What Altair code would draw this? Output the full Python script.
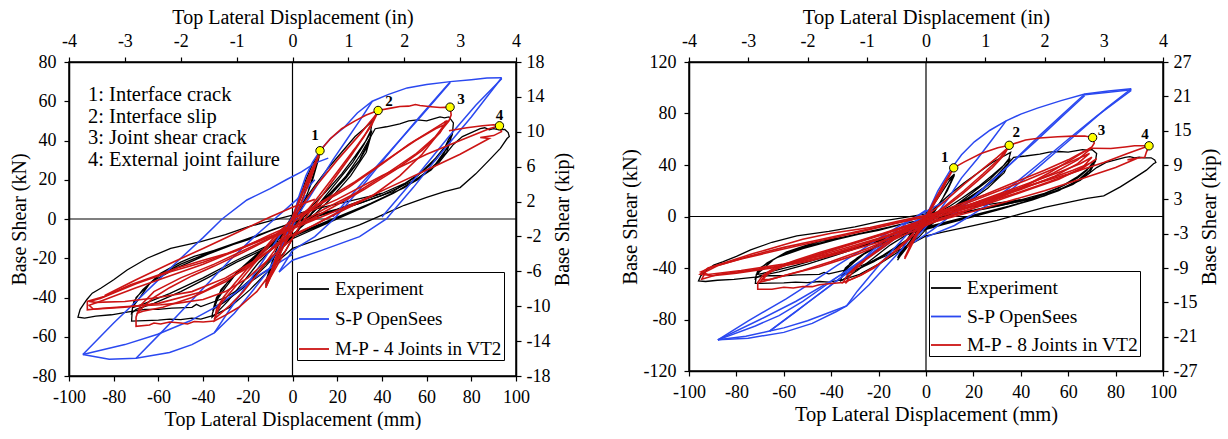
import altair as alt
import pandas as pd

FONT = "Liberation Serif, Times New Roman, DejaVu Serif, serif"
BLACK = "#000000"
BLUE = "#2a48f0"
RED = "#cc1414"

# ---------------- axis tick values ----------------
mm_ticks = [-100, -80, -60, -40, -20, 0, 20, 40, 60, 80, 100]
in_ticks = [-4, -3, -2, -1, 0, 1, 2, 3, 4]
kn_ticks_left = [-80, -60, -40, -20, 0, 20, 40, 60, 80]
kip_ticks_left = [-18, -14, -10, -6, -2, 2, 6, 10, 14, 18]
kn_ticks_right = [-120, -80, -40, 0, 40, 80, 120]
kip_ticks_right = [-27, -21, -15, -9, -3, 3, 9, 15, 21, 27]

series_names_left = ["Experiment", "S-P OpenSees", "M-P - 4 Joints in VT2"]
series_names_right = ["Experiment", "S-P OpenSees", "M-P - 8 Joints in VT2"]

event_labels = ["1", "2", "3", "4"]
events_left_x = [12.3, 38.3, 70.5, 92.6]
events_left_y = [34.8, 55.3, 57.0, 47.5]
events_right_x = [11.7, 35.1, 70.3, 94.1]
events_right_y = [37.8, 55.3, 61.3, 54.9]

annotation_lines = ["1: Interface crack", "2: Interface slip",
                    "3: Joint shear crack", "4: External joint failure"]

# ---------------- Experiment (same test in both panels) ----------------
experiment = [
    [(0, 0), (3, 10), (6, 20), (9, 28), (12, 33), (10, 25), (7, 14), (4, 5), (1, -2), (-2, -8), (-5, -16),
     (-8, -24), (-11, -31), (-12, -34), (-10, -26), (-7, -15), (-4, -6), (-1, 0), (2, 6), (6, 17), (10, 28),
     (12, 32), (9, 20), (5, 8), (1, -1), (-3, -10), (-7, -20), (-11, -30), (-12, -32), (-8, -18), (-4, -7), (0, 0)],
    [(0, 0), (5, 9), (10, 17), (16, 26), (22, 34), (28, 42), (32, 46), (35.7, 49.8), (35, 45), (32, 38), (27, 29),
     (20, 19), (12, 8), (5, -2), (0, -10), (-3, -16), (-9.6, -25), (-19, -36), (-28, -45), (-35, -49), (-36, -50),
     (-35.8, -48), (-33.6, -41), (-30, -35), (-26, -29), (-20, -23), (-14, -18), (-8, -12), (-3, -7), (0, -3),
     (5, 3), (10, 8), (15, 14), (22, 23), (28, 32), (33, 40), (35.5, 45), (34, 38), (30, 30), (24, 21), (16, 11),
     (8, 2), (2, -6), (-4, -14), (-12, -24), (-22, -35), (-30, -42), (-35.5, -46), (-34, -40), (-29, -32),
     (-22, -24), (-14, -16), (-6, -9), (0, -4), (6, 2), (14, 10), (22, 19), (30, 30), (35, 42), (33, 34),
     (26, 22), (16, 9), (6, -2), (0, -8), (-8, -18), (-18, -30), (-28, -40), (-35, -45), (-32, -36), (-24, -26),
     (-14, -17), (-5, -9), (0, -5)],
    [(0, -5), (8, 2), (16, 12), (24, 22), (30, 32), (34, 40), (37, 46), (42, 47), (48, 48.5), (52, 50),
     (56, 50.5), (60, 50), (63, 51), (66, 52), (68, 51.5), (70, 52), (72, 49), (71.5, 43), (69, 36), (64, 28),
     (56, 20), (45, 13), (32, 6), (20, 0), (8, -6), (0, -10), (-8, -14), (-15, -22), (-22, -32), (-29, -42),
     (-35, -49), (-41, -51), (-45, -50.5), (-50, -51.3), (-55, -51), (-60, -51.5), (-66, -51.8), (-72, -52),
     (-71.6, -45), (-68, -39.5), (-64, -33), (-59, -27.6), (-50, -22), (-44, -19), (-32, -15), (-20, -10.7),
     (-10, -6), (0, -2), (10, 2), (20, 5), (30, 9), (40, 13), (50, 18), (58, 24), (64, 30), (68, 36), (70, 41),
     (71, 43), (70, 38), (66, 30), (58, 22), (45, 13), (30, 5), (15, -2), (0, -9), (-12, -15), (-25, -22),
     (-38, -30), (-50, -37), (-62, -43), (-70, -46), (-72, -48), (-71, -42), (-67, -36), (-60, -29), (-50, -23),
     (-35, -16), (-20, -10), (-5, -4), (5, 0), (15, 3), (30, 8), (45, 14), (56, 22), (64, 31), (69, 38),
     (71, 41), (69, 34), (62, 25), (50, 16), (35, 8), (20, 1), (5, -6), (-10, -13), (-25, -21), (-40, -30),
     (-55, -38), (-66, -43), (-71, -45), (-70, -40), (-63, -32), (-52, -25), (-38, -18), (-22, -11), (-8, -5),
     (0, -2)],
    [(0, -2), (10, 1), (25, 6), (40, 12), (55, 20), (65, 28), (72, 38), (76, 42), (80, 44), (84, 46),
     (86, 46.5), (88, 45.5), (90, 46), (92, 45.5), (95, 45.6), (96.5, 44), (97, 42), (96, 41), (93, 36),
     (88, 30), (82, 23), (75, 16), (68, 14), (60, 11), (50, 7), (40, 2), (30, -3), (20, -7), (10, -11),
     (0, -15), (-10, -25), (-20, -33), (-30, -40), (-41, -44.6), (-43, -43.5), (-45, -45), (-54, -45.4),
     (-60, -46), (-66, -46), (-74, -47.5), (-81, -48.8), (-88, -49.5), (-93, -50.5), (-96, -50), (-95, -46),
     (-92, -41), (-89.6, -37.8), (-85.8, -35.3), (-80, -31), (-74, -26), (-65, -20), (-54.5, -15),
     (-41, -11.5), (-30, -8), (-20, -4), (-10, -1), (0, 2), (10, 5), (25, 9), (40, 13)],
]

# ---------------- S-P OpenSees, left panel ----------------
sp_left = [
    [(0, 0), (3, 12), (6, 22), (9, 29), (12.5, 35), (17, 41), (23, 46.5), (29, 54), (35.7, 60), (43, 63.5),
     (51.3, 66.8), (60, 68.5), (70.6, 70), (80, 71), (87, 71.8), (93.6, 72)],
    [(35.7, 60), (30, 50), (24, 40), (18, 30), (12, 19), (7, 10), (3, 3), (0, -4), (-5, -13), (-10, -22)],
    [(70.6, 70), (56, 51), (42, 32), (30, 15), (18.6, 0), (10, -9), (0, -16), (-6, -27)],
    [(18, 1), (30, 17), (44, 35), (58, 53), (70.6, 69.5)],
    [(93.6, 72), (80, 52), (66, 33), (54, 16), (42, 0), (30, -9), (13, -16), (0, -21), (-6, -27)],
    [(40, 1), (55, 21), (70, 42), (82, 58), (93.6, 71.5)],
    [(0, 0), (-4, -12), (-8, -21), (-12, -28), (-18.8, -38), (-26, -48), (-35, -58), (-45, -64), (-55, -68),
     (-70, -71), (-82, -71.5), (-93.8, -69)],
    [(0, -18), (-10, -25), (-18.8, -31.4), (-26, -38), (-34.7, -45), (-46, -52), (-60.3, -58.7), (-75, -64),
     (-93.8, -69)],
    [(-93.8, -69), (-80, -53), (-70, -42), (-60, -31), (-50, -20), (-40, -9.5), (-31.5, 0), (-20.4, 9.7),
     (-10, 15.5), (-2.8, 20), (4, 24), (10, 28.5), (16, 31)],
    [(-70, -71), (-58, -57), (-48, -45), (-38, -33), (-28, -21), (-18, -10), (-8, 0), (2, 10), (10, 20)],
    [(-35, -58), (-28, -46), (-20, -33), (-13, -21), (-6, -9), (0, 1), (6, 12)],
]

# ---------------- M-P 4 joints, left panel ----------------
mp_left = [
    [(0, 0), (4, 12), (8, 23), (12.3, 34.8), (9, 24), (5, 12), (1, 0), (-3, -11), (-7, -22), (-12, -35),
     (-8, -22), (-4, -10), (0, 1), (4, 13), (8, 24), (12, 33), (8, 20), (3, 6), (-2, -8), (-6, -19),
     (-11, -32), (-7, -18), (-2, -4), (2, 6)],
    [(12.3, 34.8), (17, 41), (22, 46), (28, 50), (33, 53), (38.3, 55.3), (36, 50), (32, 42), (26, 32),
     (19, 21), (12, 10), (6, 1), (2, -6), (-2, -14), (-6, -22), (-10, -30), (-12, -35)],
    [(0, 0), (10, 16), (20, 30), (30, 43), (38, 54), (35, 47), (28, 36), (20, 24), (12, 12), (5, 2), (0, -6),
     (-5, -16), (-10, -28), (-12, -33)],
    [(38.3, 55.3), (44, 56.5), (48, 57.3), (52, 57.5), (55, 58.3), (57, 57.8), (62, 57.2), (66, 56.8),
     (70.5, 57), (71, 53), (70, 50), (68, 49.5), (69.5, 49.3), (70, 50), (65, 43), (58, 33), (48, 22),
     (36, 12), (22, 4), (10, -3), (0, -8)],
    [(0, -2), (10, 6), (25, 16), (40, 28), (52, 38), (62, 45), (69, 50), (66, 44), (58, 35), (46, 25),
     (32, 15), (18, 6), (5, -2)],
    [(0, 0), (12, 8), (28, 19), (42, 30), (55, 40), (64, 46), (68, 48), (64, 42), (55, 33), (42, 23),
     (28, 13), (14, 5), (2, -3)],
    [(70, 45), (78, 46.5), (85, 47.5), (90, 48), (92.6, 47.5), (93.5, 44.5), (90, 42.5), (84, 41.5),
     (88, 41), (75, 33), (60, 25), (45, 17), (30, 9), (18, 2), (8, -4), (0, -9)],
    [(0, 0), (20, 10), (40, 22), (60, 33), (75, 40), (88, 46), (92.6, 47.5)],
    [(0, -10), (-10, -20), (-20, -30), (-30, -37), (-40, -41), (-52, -43), (-59, -43.7), (-74, -44.6),
     (-85, -45.5), (-91.8, -46.3), (-91.8, -42), (-84.3, -39.5), (-72.4, -33.5), (-60, -28.5), (-51.5, -25),
     (-40, -21), (-29, -17.5), (-15, -11), (0, -5), (15, 2), (30, 9)],
    [(0, -8), (-15, -20), (-30, -30), (-45, -37), (-60, -40), (-75, -42), (-88, -42.5), (-91, -42),
     (-86, -40.5), (-70, -33), (-55, -27), (-40, -22), (-25, -16), (-10, -9), (0, -4), (12, 1)],
    [(0, -6), (-20, -25), (-40, -37), (-60, -43), (-75, -45), (-89, -46), (-91, -44), (-85, -41.5),
     (-70, -35), (-55, -29), (-40, -23), (-25, -16), (-10, -8), (0, -3)],
    [(-84, -39), (-70, -31), (-54.5, -22.5), (-40, -15), (-25, -7), (-10, 1), (0, 6), (10, 10)],
    [(-35, -52), (-40, -52.5), (-44, -52.2), (-47, -53.5), (-50, -53), (-55, -52.5), (-59, -53.5),
     (-62, -53), (-64, -54), (-70, -54.7), (-70, -50), (-69.4, -48), (-67, -45), (-62, -40), (-55, -35),
     (-45, -29), (-35, -24), (-22, -17), (-10, -10), (0, -5)],
    [(0, -8), (-15, -20), (-30, -32), (-45, -40), (-58, -45), (-67, -47), (-69.4, -48), (-68, -44),
     (-62, -37), (-50, -30), (-35, -23), (-20, -15), (-5, -7)],
    [(-5, -18), (-10, -28), (-16, -37), (-24, -45), (-30, -49), (-35, -52), (-34, -46), (-31, -40),
     (-26, -33), (-20, -25), (-14, -17), (-6.7, -7.3), (0, 0), (-8, -16), (-15, -27), (-22, -37), (-28, -44),
     (-33, -49), (-35, -51), (-32, -43), (-26, -35), (-18, -24), (-10, -13), (-3, -4)],
]

# ---------------- S-P OpenSees, right panel ----------------
sp_right = [
    [(0, 0), (5, 20), (10.6, 37), (15, 48), (20.4, 58), (27, 67), (33.8, 74.3), (40, 79.5), (47, 84.2),
     (57, 90), (67, 95.2), (77, 97.5), (86.6, 99.2)],
    [(33.8, 74.3), (28, 60), (21.8, 45), (15, 30), (9.2, 13.6), (5, 3), (0, -8), (-5, -18)],
    [(67, 95.2), (58, 80), (48, 63), (38, 45), (28, 28), (18, 12), (10, 0), (3, -10), (-5, -20)],
    [(12, 2), (22, 18), (34, 38), (46, 58), (57, 77), (67, 94)],
    [(86.6, 99.2), (76, 84), (66, 68), (56, 52), (46, 36), (36, 21), (27.5, 11), (20, 2), (12, -7), (0, -16)],
    [(25, 9), (35, 22), (47, 40), (60, 60), (72, 78), (86.6, 98)],
    [(67, 94.5), (77, 96.5), (86.6, 98.5)],
    [(0, 0), (-5, -12), (-10, -25), (-15, -35), (-19.3, -43.5), (-24, -53), (-29, -61.7), (-33.5, -69.4),
     (-40, -74), (-50, -81), (-60, -86.5), (-66, -89), (-76, -93), (-87.8, -95.8)],
    [(-87.8, -95.8), (-75, -81), (-59, -64), (-48, -51), (-37.8, -38.3), (-28, -27), (-19.3, -16.3),
     (-10, -6), (0, 4), (8, 12)],
    [(-66, -89), (-58, -78), (-50, -67), (-42, -56), (-34, -45), (-28, -36), (-23.6, -28), (-16, -16),
     (-8, -5), (0, 5)],
    [(-66, -89), (-55, -74), (-45, -60), (-35, -46), (-25, -32), (-15, -18), (-5, -5), (3, 5)],
    [(-87.8, -95.8), (-72, -85), (-62, -77), (-52, -66), (-42, -53), (-32, -40), (-24, -30), (-16, -19),
     (-8, -8), (0, 2)],
    [(-87.8, -95.8), (-70, -80), (-55, -66), (-40, -50), (-28, -36), (-18, -24), (-8, -10)],
    [(-33.5, -69.4), (-29, -58), (-24, -47), (-19, -36), (-14, -26), (-8, -14), (-3, -4), (0, 2)],
    [(-87.8, -95.8), (-75, -94.5), (-60, -90), (-48, -83), (-38, -74), (-33.5, -69.4)],
]

# ---------------- M-P 8 joints, right panel ----------------
mp_right = [
    [(0, 0), (4, 13), (8, 26), (11.7, 37.8), (8, 25), (4, 12), (0, -1), (-3, -11), (-6, -22), (-9, -33),
     (-6, -21), (-3, -10), (0, 0), (4, 14), (8, 27), (11, 36), (7, 21), (2, 5), (-2, -9), (-6, -21),
     (-9, -32), (-5, -16), (-1, -3), (3, 10)],
    [(11.7, 37.8), (16.2, 42.4), (23.2, 48.9), (30.3, 53.4), (35.1, 55.3), (33, 48), (28, 38), (22, 28),
     (15, 17), (8, 7), (3, 0), (0, -6), (-4, -14), (-8, -24)],
    [(0, 0), (8, 12), (16, 25), (24, 37), (30, 46), (35, 54), (31, 45), (24, 33), (16, 20), (8, 8), (0, -3)],
    [(35.1, 55.3), (42, 59.4), (48, 61), (55.6, 62), (62, 62.4), (67, 62.5), (70.3, 61.3), (71, 57),
     (70, 54), (62, 45), (52, 34), (40, 22), (28, 12), (15, 3), (5, -3), (0, -7)],
    [(0, 0), (12, 8), (25, 17), (38, 27), (50, 36), (60, 44), (66, 50), (70, 53.5), (64, 44), (54, 34),
     (42, 24), (28, 14), (14, 5), (0, -3)],
    [(0, -1), (14, 8), (28, 18), (42, 28), (54, 37), (63, 44), (69, 49), (64, 41), (54, 31), (40, 21),
     (26, 12), (12, 4), (0, -4)],
    [(0, -2), (15, 7), (30, 17), (45, 27), (57, 35), (65, 41), (70, 46), (66, 38), (56, 29), (42, 20),
     (28, 11), (14, 3), (0, -5)],
    [(0, 0), (18, 9), (35, 19), (50, 28), (62, 36), (70, 42), (72, 45), (65, 36), (52, 27), (38, 18),
     (22, 9), (8, 1)],
    [(70, 53), (78, 52.8), (84, 54), (88, 54.9), (94.1, 54.9), (93, 50), (92.3, 46), (88, 45), (85, 44),
     (89.4, 45.5), (80, 38), (65, 29), (50, 20), (35, 12), (20, 4), (8, -2), (0, -6)],
    [(0, 0), (20, 10), (40, 22), (60, 33), (75, 42), (85, 49), (94.1, 54.9)],
    [(0, -6), (-10, -13), (-20, -20), (-35, -28), (-50, -35), (-65, -40), (-80, -44), (-90, -46),
     (-95.3, -44.8), (-92, -40), (-85, -36), (-73.3, -29), (-60, -22), (-52, -17.6), (-40, -13),
     (-23.6, -8.5), (-10, -3), (0, 1), (10, 5)],
    [(0, -4), (-15, -14), (-30, -24), (-45, -32), (-60, -38), (-75, -42), (-88, -45), (-94.6, -48.7),
     (-93, -43), (-88, -38.3), (-75, -31), (-60, -24), (-45, -18), (-30, -12), (-15, -6), (0, 0)],
    [(0, -5), (-20, -18), (-40, -29), (-60, -37), (-78, -42), (-92, -45), (-95, -43), (-90, -39),
     (-78, -33), (-62, -26), (-45, -19), (-28, -12), (-12, -5), (0, 0)],
    [(-35, -51.3), (-40, -52), (-45, -53), (-48, -54.5), (-52, -54.4), (-56, -55.5), (-60, -55),
     (-65, -56.5), (-71, -56.5), (-71, -51.3), (-69, -46), (-64, -40), (-55, -34), (-45, -28), (-32, -21),
     (-18, -13), (-5, -5), (0, -2)],
    [(0, -5), (-12, -15), (-25, -25), (-40, -35), (-52, -42), (-62, -47), (-68, -50), (-70, -51),
     (-68, -46), (-62, -39), (-52, -33), (-40, -26), (-26, -18), (-12, -10), (0, -3)],
    [(0, -7), (-15, -19), (-30, -30), (-45, -39), (-58, -45), (-66, -49), (-69, -49), (-66, -43),
     (-58, -37), (-46, -30), (-32, -22), (-18, -14), (-5, -6)],
    [(-69, -49), (-67, -44), (-60, -38), (-48, -32), (-35, -25), (-20, -17), (-8, -9), (0, -4)],
    [(0, -3), (-8, -18), (-15, -30), (-22, -40), (-28, -46), (-33, -50), (-35, -51.3), (-33, -45),
     (-29, -38), (-23.6, -30.6), (-17, -21), (-10, -12), (-4, -5), (0, 0)],
    [(-5, -14), (-12, -26), (-20, -37), (-27, -45), (-33, -50), (-34, -52), (-31, -43), (-25, -33),
     (-18, -24), (-10, -13), (-3, -4)],
]


def strokes_df(series, strokes):
    rows = []
    for s, pts in enumerate(strokes):
        for i, (x, y) in enumerate(pts):
            rows.append({"series": series, "stroke": f"{series}|{s}", "i": i, "x": x, "y": y})
    return pd.DataFrame(rows)


def panel(names, exp, sp, mp, ev_x, ev_y, label_offsets, kn_max, kn_ticks, kip_max, kip_ticks,
          w, h, tick_fs, title_fs, legend_fs, legend_xy, annotation=None):
    df = pd.concat([strokes_df(names[0], exp), strokes_df(names[1], sp), strokes_df(names[2], mp)],
                   ignore_index=True)
    xs = alt.Scale(domain=[-100, 100], nice=False, zero=False)
    ys = alt.Scale(domain=[-kn_max, kn_max], nice=False, zero=False)
    common = dict(labelFont=FONT, titleFont=FONT, labelFontSize=tick_fs, titleFontSize=title_fs,
                  labelOverlap=False, labelFlush=False, labelExpr="'' + datum.value", labelBound=False)
    xax = alt.Axis(orient="bottom", values=mm_ticks, title="Top Lateral Displacement (mm)",
                   labelPadding=7, titlePadding=3, **common)
    yax = alt.Axis(orient="left", values=kn_ticks, title="Base Shear (kN)",
                   labelPadding=8, titlePadding=3, **common)
    X = alt.X("x:Q", scale=xs, axis=xax)
    Y = alt.Y("y:Q", scale=ys, axis=yax)
    color = alt.Color(
        "series:N",
        scale=alt.Scale(domain=names, range=[BLACK, BLUE, RED]),
        legend=alt.Legend(title=None, orient="none", legendX=legend_xy[0], legendY=legend_xy[1],
                          direction="vertical", symbolType="stroke", symbolSize=900,
                          symbolStrokeWidth=1.8, labelFont=FONT, labelFontSize=legend_fs,
                          labelColor="black", labelOffset=5, labelLimit=400, strokeColor="black",
                          fillColor="white", padding=legend_xy[2], rowPadding=legend_xy[3], zindex=1),
    )
    base = alt.Chart(df)

    def line(name, sw):
        return base.transform_filter(alt.datum.series == name).mark_line(strokeWidth=sw).encode(
            x=X, y=Y, color=color, detail="stroke:N", order="i:Q")

    zero = pd.DataFrame({"z": [0]})
    vrule = alt.Chart(zero).mark_rule(color="black", strokeWidth=1.2).encode(x=alt.X("z:Q", scale=xs, axis=xax))
    hrule = alt.Chart(zero).mark_rule(color="black", strokeWidth=1.2).encode(y=alt.Y("z:Q", scale=ys, axis=yax))

    ev = pd.DataFrame({"x": ev_x, "y": ev_y, "lab": event_labels})
    pts = alt.Chart(ev).mark_point(shape="circle", filled=True, fill="#ffff00", stroke="black",
                                   strokeWidth=1, size=70, opacity=1).encode(x=X, y=Y)
    texts = []
    for lab, (dx, dy) in zip(event_labels, label_offsets):
        texts.append(alt.Chart(ev).transform_filter(alt.datum.lab == lab).mark_text(
            font=FONT, fontSize=15, fontWeight="bold", color="black", dx=dx, dy=dy,
            align="center", baseline="middle").encode(x=X, y=Y, text="lab:N"))

    layers = [vrule, hrule, line(names[0], 1.3), line(names[1], 1.5), line(names[2], 1.6), pts] + texts
    if annotation is not None:
        layers.append(alt.Chart(zero).mark_text(font=FONT, fontSize=20.5, align="left", baseline="top",
                                                lineHeight=21.7, color="black").encode(
            x=alt.value(19), y=alt.value(23), text=alt.value(annotation)))
    main = alt.layer(*layers)

    dummy_df = pd.DataFrame({"xin": [-4, 4], "kip": [-kip_max, kip_max]})
    dummy = alt.Chart(dummy_df).mark_point(opacity=0).encode(
        x=alt.X("xin:Q", scale=alt.Scale(domain=[-4, 4], nice=False, zero=False),
                axis=alt.Axis(orient="top", values=in_ticks, title="Top Lateral Displacement (in)",
                              labelPadding=7, titlePadding=5, **common)),
        y=alt.Y("kip:Q", scale=alt.Scale(domain=[-kip_max, kip_max], nice=False, zero=False),
                axis=alt.Axis(orient="right", values=kip_ticks, title="Base Shear (kip)",
                              titleAngle=270, titleBaseline="top", labelPadding=5,
                              titlePadding=3, **common)),
    )
    return alt.layer(main, dummy).resolve_scale(x="independent", y="independent").properties(
        width=w, height=h)


left = panel(series_names_left, experiment, sp_left, mp_left, events_left_x, events_left_y,
             [(-5, -16), (11, -9), (11, -8), (0, -11)], 80, kn_ticks_left, 18, kip_ticks_left,
             447, 314, 18, 20, 19, (228, 210, 1, 4), annotation=annotation_lines)
right = panel(series_names_right, experiment, sp_right, mp_right, events_right_x, events_right_y,
              [(-9, -11), (7, -13), (9, -8), (-4, -12)], 120, kn_ticks_right, 27, kip_ticks_right,
              474, 309, 18, 20.5, 19.5, (240, 209, 1, 2.5))

chart = alt.hconcat(left, right, spacing=45).resolve_scale(
    color="independent").properties(
    padding={"left": 8, "top": 6, "right": 0, "bottom": 0}
).configure_view(stroke="black", strokeWidth=1.5).configure_axis(
    labelColor="black", titleColor="black", tickColor="black",
    domainColor="black", titleFontWeight="normal", grid=False, tickSize=5, domainWidth=1.5, tickWidth=1.2
).configure_legend(labelFont=FONT)

chart.save("out.html", embed_options={"renderer": "svg", "actions": False})
